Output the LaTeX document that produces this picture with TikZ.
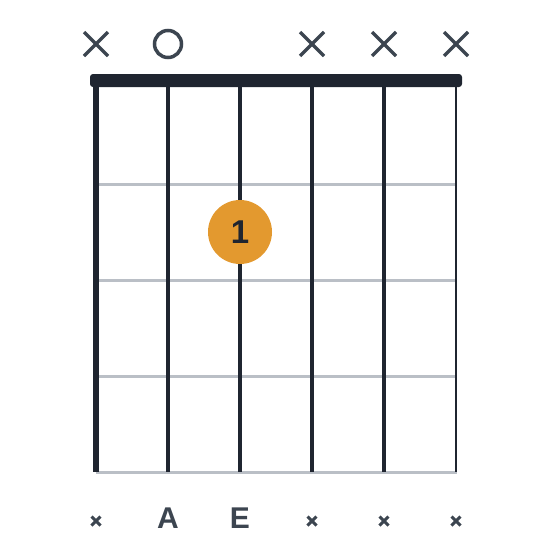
\documentclass[tikz,border=0pt]{standalone}
\usepackage{fontspec}
\setmainfont{Liberation Sans}
\definecolor{strcol}{HTML}{1F2530}
\definecolor{fretcol}{HTML}{BABFC6}
\definecolor{markcol}{HTML}{3C4550}
\definecolor{dotcol}{HTML}{E3992F}
\tikzset{
  fretline/.style={draw=fretcol, line width=3pt},
  muteX/.style={draw=markcol, line width=3.5pt},
  smallX/.style={draw=markcol, line width=3pt},
  openO/.style={circle, draw=markcol, line width=3.5pt, minimum size=27pt, inner sep=0pt},
  fingerdot/.style={circle, fill=dotcol, minimum size=64pt, inner sep=0pt, text=strcol, font=\fontsize{33}{33}\selectfont\bfseries},
  notelabel/.style={text=markcol, font=\fontsize{30}{30}\selectfont\bfseries, inner sep=0pt},
}
\begin{document}
\begin{tikzpicture}[x=1pt,y=-1pt]
\useasboundingbox (0,0) rectangle (560,560);
% frets
\foreach \y/\n in {184/1,280/2,376/3,472/4}{
  \coordinate (fl\n) at (96,\y);
  \coordinate (fr\n) at (457,\y);
  \draw[fretline] (fl\n) -- (fr\n);
}
% strings
\foreach \i/\x/\w in {1/96/5.2,2/168/4.4,3/240/4,4/312/3.7,5/384/3.3,6/456/2.7}{
  \coordinate (st\i) at (\x,80);
  \coordinate (sb\i) at (\x,472);
  \draw[draw=strcol, line width=\w pt] (st\i) -- (sb\i);
}
% nut
\coordinate (nl) at (90,74);
\coordinate (nr) at (462,87);
\fill[strcol, rounded corners=3pt] (nl) rectangle (nr);
% finger dot
\node[fingerdot] (f1) at (240,232) {1};
% top markers
\node[openO] (o2) at (168,44) {};
\foreach \i/\x in {1/96,4/312,5/384,6/456}{
  \coordinate (m\i) at (\x,44);
  \draw[muteX] ([shift={(-12,-12)}]m\i) -- ([shift={(12,12)}]m\i);
  \draw[muteX] ([shift={(-12,12)}]m\i) -- ([shift={(12,-12)}]m\i);
}
% bottom labels
\node[notelabel] (n2) at (168,518) {A};
\node[notelabel] (n3) at (240,518) {E};
\foreach \i/\x in {1/96,4/312,5/384,6/456}{
  \coordinate (b\i) at (\x,521);
  \draw[smallX] ([shift={(-4.5,-4.5)}]b\i) -- ([shift={(4.5,4.5)}]b\i);
  \draw[smallX] ([shift={(-4.5,4.5)}]b\i) -- ([shift={(4.5,-4.5)}]b\i);
}
\end{tikzpicture}
\end{document}
